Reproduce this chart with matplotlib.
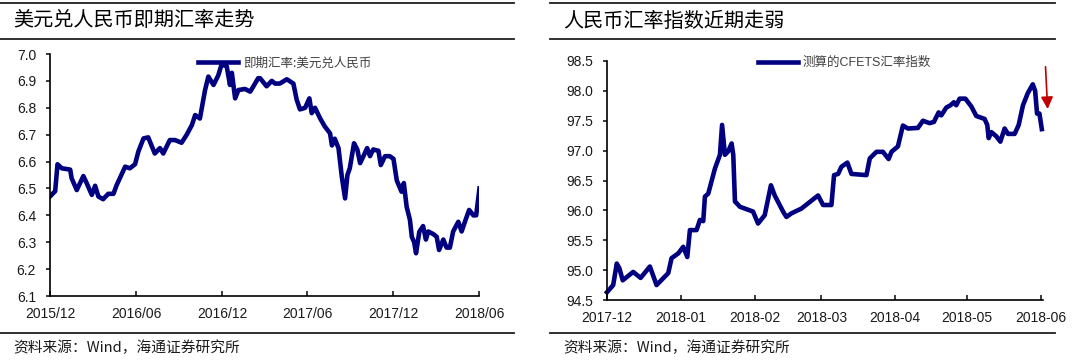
import numpy as np
import pandas as pd
import matplotlib
matplotlib.use("Agg")
import matplotlib.pyplot as plt
import matplotlib.dates as mdates
from matplotlib.lines import Line2D

plt.rcParams['font.family'] = ['Liberation Sans', 'Noto Sans CJK SC']

# left chart: USD/CNY spot, days after 2015-12-01
usd_days = [0, 11, 16, 25, 43, 46, 57, 71, 78, 89, 96, 103, 113, 124, 135, 142,
            160, 170, 181, 188, 199, 209, 216, 223, 234, 241, 255, 266, 280, 291,
            302, 309, 319, 330, 337, 348, 358, 365, 376, 383, 387, 394, 401, 415,
            426, 433, 443, 447, 461, 472, 479, 489, 504, 518, 525, 532, 543, 552,
            557, 564, 575, 585, 596, 600, 606, 614, 621, 628, 633, 638, 647, 654,
            660, 667, 675, 681, 688, 699, 704, 713, 723, 731, 738, 748, 753, 759,
            766, 770, 775, 779, 786, 794, 800, 805, 816, 823, 828, 837, 844, 851,
            858, 869, 876, 883, 892, 901, 907, 914]
usd_cny = [6.47, 6.49, 6.59, 6.575, 6.57, 6.538, 6.494, 6.546, 6.52, 6.476, 6.51,
           6.47, 6.46, 6.48, 6.48, 6.513, 6.581, 6.575, 6.59, 6.637, 6.686, 6.69,
           6.66, 6.63, 6.65, 6.63, 6.68, 6.68, 6.67, 6.70, 6.736, 6.773, 6.76,
           6.866, 6.916, 6.885, 6.92, 6.96, 6.955, 6.885, 6.93, 6.835, 6.866,
           6.87, 6.86, 6.88, 6.91, 6.91, 6.88, 6.90, 6.89, 6.89, 6.906, 6.89,
           6.83, 6.794, 6.80, 6.835, 6.78, 6.80, 6.76, 6.73, 6.705, 6.66, 6.685,
           6.65, 6.544, 6.463, 6.55, 6.575, 6.668, 6.645, 6.594, 6.62, 6.65,
           6.62, 6.645, 6.64, 6.587, 6.62, 6.62, 6.61, 6.53, 6.488, 6.52, 6.432,
           6.383, 6.32, 6.30, 6.259, 6.339, 6.36, 6.31, 6.34, 6.33, 6.32, 6.271,
           6.31, 6.28, 6.28, 6.34, 6.376, 6.34, 6.376, 6.42, 6.40, 6.40, 6.50]

# right chart: estimated CFETS index, days after 2017-12-01
cfets_days = [0, 2.6, 4.1, 5.2, 6.6, 11.0, 14.1, 18.0, 20.8, 25.7, 27.1, 29.9,
              32.0, 33.7, 34.8, 37.6, 39.0, 40.4, 41.1, 42.5, 45.3, 47.4, 48.3,
              49.5, 50.9, 52.3, 53.0, 53.7, 55.8, 61.3, 63.4, 66.2, 68.8, 70.4,
              73.9, 75.3, 77.4, 81.6, 88.6, 90.7, 94.2, 95.3, 97.0, 98.4, 100.9,
              102.6, 108.9, 110.3, 113.1, 115.8, 118.2, 119.4, 122.1, 124.2,
              126.3, 130.5, 132.6, 135.4, 137.2, 139.2, 140.3, 142.4, 144.2,
              145.6, 146.6, 148.0, 150.4, 152.9, 155.0, 158.5, 159.6, 160.2,
              161.3, 163.4, 165.1, 166.9, 168.3, 171.1, 172.8, 174.6, 176.6,
              178.7, 179.7, 180.5, 181.5, 182.5]
cfets = [94.63, 94.75, 95.11, 95.03, 94.83, 94.97, 94.87, 95.06, 94.75, 94.95,
         95.20, 95.28, 95.39, 95.22, 95.67, 95.67, 95.84, 95.82, 96.23, 96.28,
         96.70, 96.93, 97.43, 96.93, 96.99, 97.12, 96.93, 96.15, 96.06, 95.98,
         95.78, 95.92, 96.42, 96.25, 95.98, 95.89, 95.95, 96.03, 96.25, 96.09,
         96.09, 96.59, 96.61, 96.73, 96.80, 96.61, 96.59, 96.87, 96.98, 96.98,
         96.86, 96.98, 97.07, 97.42, 97.37, 97.38, 97.50, 97.46, 97.48, 97.64,
         97.59, 97.72, 97.76, 97.81, 97.76, 97.87, 97.87, 97.74, 97.58, 97.53,
         97.43, 97.21, 97.31, 97.24, 97.15, 97.37, 97.28, 97.28, 97.43, 97.76,
         97.96, 98.11, 98.0, 97.62, 97.62, 97.36]

usd_dates = pd.Timestamp('2015-12-01') + pd.to_timedelta(usd_days, unit='D')
cfets_dates = pd.Timestamp('2017-12-01') + pd.to_timedelta(cfets_days, unit='D')

navy = '#000080'
txt = '#1a1a1a'
cjk = ['Noto Sans CJK SC', 'DejaVu Sans']

fig = plt.figure(figsize=(10.8, 3.6), dpi=100)


def style(ax):
    for s in ['top', 'right']:
        ax.spines[s].set_visible(False)
    for s in ['left', 'bottom']:
        ax.spines[s].set_linewidth(1.2)
        ax.spines[s].set_color('black')
    ax.tick_params(axis='y', direction='out', length=3, width=1.2, labelsize=10,
                   colors=txt, pad=7)
    ax.tick_params(axis='x', direction='in', length=3.5, width=1.2, labelsize=10,
                   colors=txt, pad=8)
    ax.yaxis.set_major_formatter(plt.FormatStrFormatter('%.1f'))


# left panel
ax1 = fig.add_axes([50 / 1080, 64 / 360, 429 / 1080, 242 / 360])
ax1.plot(usd_dates, usd_cny, color=navy, lw=3.3, label='即期汇率:美元兑人民币')
ax1.set_xlim(pd.Timestamp('2015-12-01'), pd.Timestamp('2018-06-01'))
ax1.set_ylim(6.1, 7.0)
ax1.set_yticks(np.arange(6.1, 7.01, 0.1))
ax1.xaxis.set_major_locator(mdates.MonthLocator(bymonth=[6, 12]))
ax1.xaxis.set_major_formatter(mdates.DateFormatter('%Y/%m'))
style(ax1)
ax1.legend(loc='center left', bbox_to_anchor=(198 / 1080, 1 - 63 / 360),
           bbox_transform=fig.transFigure, frameon=False, handlelength=3.2,
           handletextpad=0.4, borderpad=0, borderaxespad=0,
           prop={'family': cjk, 'size': 9}, labelcolor='#404040')

# right panel
ax2 = fig.add_axes([607 / 1080, 60 / 360, 436 / 1080, 239 / 360])
ax2.plot(cfets_dates, cfets, color=navy, lw=3.3, label='测算的CFETS汇率指数',
         clip_on=False)
ax2.set_xlim(pd.Timestamp('2017-12-01'), pd.Timestamp('2018-06-02'))
ax2.set_ylim(94.5, 98.5)
ax2.set_yticks(np.arange(94.5, 98.51, 0.5))
ax2.xaxis.set_major_locator(mdates.MonthLocator())
ax2.xaxis.set_major_formatter(mdates.DateFormatter('%Y-%m'))
style(ax2)
ax2.legend(loc='center left', bbox_to_anchor=(758 / 1080, 1 - 63 / 360),
           bbox_transform=fig.transFigure, frameon=False, handlelength=3.2,
           handletextpad=0.4, borderpad=0, borderaxespad=0,
           prop={'family': ['Liberation Sans', 'Noto Sans CJK SC'], 'size': 9},
           labelcolor='#404040')
ax2.annotate('', xy=(pd.Timestamp('2018-06-04'), 97.65),
             xytext=(pd.Timestamp('2018-06-03'), 98.45),
             arrowprops=dict(arrowstyle='-|>', color='#c00000', lw=1.2,
                             mutation_scale=18), annotation_clip=False)

# titles, rules and source lines
for x0, x1, title in [(0, 514, '美元兑人民币即期汇率走势'), (550, 1055, '人民币汇率指数近期走弱')]:
    for yy in [3, 39, 333]:
        fig.add_artist(Line2D([x0 / 1080, x1 / 1080], [1 - yy / 360, 1 - yy / 360],
                              color='#202020', lw=1.3, transform=fig.transFigure))
    fig.text((x0 + 13) / 1080, 1 - 21 / 360, title, fontsize=14.5, family=cjk,
             color='black', va='center', ha='left')
    fig.text((x0 + 13) / 1080, 1 - 348 / 360, '资料来源：Wind，海通证券研究所',
             fontsize=10.6, family=cjk, color=txt, va='center', ha='left')

fig.savefig('out.png', dpi=100)
